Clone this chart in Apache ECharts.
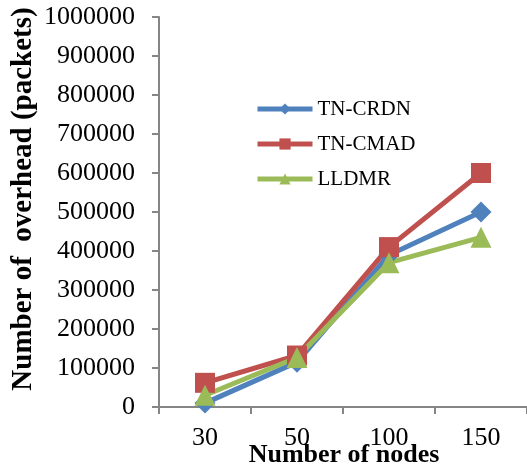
<!DOCTYPE html>
<html>
<head>
<meta charset="utf-8">
<script src="https://cdn.jsdelivr.net/npm/echarts@6/dist/echarts.min.js"></script>
<style>html,body{margin:0;padding:0;background:#fff;}#c{width:527px;height:468px;}</style>
</head>
<body>
<div id="c"></div>
<script>
const categories = ['30', '50', '100', '150'];
const tnCrdn = [10000, 115000, 390000, 500000];
const tnCmad = [62000, 132000, 410000, 600000];
const lldmr = [30000, 127000, 370000, 435000];
const seriesNames = ['TN-CRDN', 'TN-CMAD', 'LLDMR'];
const xTitle = 'Number of nodes';
const yTitle = 'Number of  overhead (packets)';

const chart = echarts.init(document.getElementById('c'), null, {renderer: 'canvas'});
const font = 'Liberation Serif';
const axisGray = '#868686';
function mk(name, data, color, symbol, size) {
  return {
    name: name, type: 'line', data: data,
    symbol: symbol, symbolSize: size,
    lineStyle: {width: 5, color: color},
    itemStyle: {color: color},
    emphasis: {disabled: true},
    animation: false
  };
}
chart.setOption({
  animation: false,
  backgroundColor: '#fff',
  grid: {left: 159, right: 0, top: 17, bottom: 61, containLabel: false, outerBoundsMode: 'none'},
  legend: {
    orient: 'vertical', left: 250, top: 93, padding: 5,
    itemWidth: 55, itemHeight: 14, itemGap: 13,
    lineStyle: {width: 5},
    textStyle: {fontFamily: font, fontSize: 21, color: '#000', lineHeight: 22},
    data: seriesNames
  },
  graphic: [{
    type: 'text', rotation: Math.PI / 2,
    x: 24, y: 199,
    style: {text: yTitle, font: 'bold 29px "Liberation Serif"', fill: '#000', align: 'center', verticalAlign: 'middle'}
  }, {
    type: 'text', x: 344, y: 455,
    style: {text: xTitle, font: 'bold 26px "Liberation Serif"', fill: '#000', align: 'center', verticalAlign: 'middle'}
  }],
  xAxis: {
    type: 'category', data: categories, boundaryGap: true,
    axisLine: {lineStyle: {color: axisGray, width: 2}},
    axisTick: {show: true, length: 7, alignWithLabel: false, lineStyle: {color: axisGray, width: 2}},
    axisLabel: {fontFamily: font, fontSize: 26, color: '#000', margin: 18}
  },
  yAxis: {
    type: 'value', min: 0, max: 1000000, interval: 100000,
    axisLine: {show: true, lineStyle: {color: axisGray, width: 2}},
    axisTick: {show: true, length: 7, lineStyle: {color: axisGray, width: 2}},
    splitLine: {show: false},
    axisLabel: {fontFamily: font, fontSize: 26, color: '#000', margin: 24, formatter: function (v) { return String(v); }}
  },
  series: [
    mk(seriesNames[0], tnCrdn, '#4F81BD', 'diamond', 21),
    mk(seriesNames[1], tnCmad, '#C0504D', 'rect', 20),
    mk(seriesNames[2], lldmr, '#9BBB59', 'triangle', 21)
  ]
});
</script>
</body>
</html>
